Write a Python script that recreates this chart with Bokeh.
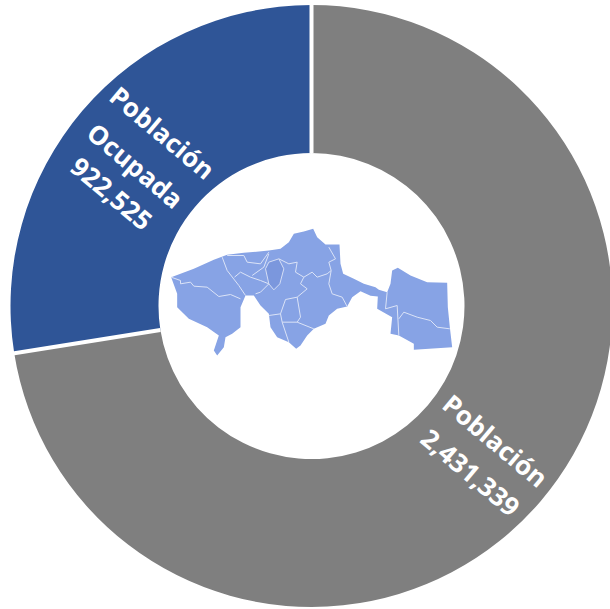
from math import pi, cos, sin
from bokeh.plotting import figure
from bokeh.embed import file_html
from bokeh.resources import INLINE
from bokeh.core.properties import value

categories = ["Población Ocupada", "Población"]
values = [922525, 2431339]
colors = ["#2f5597", "#7f7f7f"]
label_lines = ["Población", "Ocupada", "922,525", "Población", "2,431,339"]

# Map of the state, traced outline and internal boundaries
map_outline = [(32,170),(100,145),(160,118),(200,103),(250,97),(325,90),(360,85),(385,65),(400,40),(430,33),(458,25),(470,50),(495,72),(537,72),(540,130),(548,160),(580,175),(610,190),(645,200),(655,208),(680,215),(690,190),(695,150),(712,142),(750,165),(800,185),(860,187),(862,260),(868,320),(875,380),(760,388),(760,370),(715,345),(690,340),(695,290),(650,265),(652,228),(630,226),(600,212),(575,230),(560,258),(530,265),(505,285),(495,310),(460,325),(440,345),(420,375),(407,385),(385,365),(350,350),(330,320),(325,280),(300,255),(280,225),(255,225),(240,260),(240,300),(240,320),(215,340),(195,350),(190,380),(170,405),(160,390),(175,345),(140,320),(85,295),(50,260),(50,220)]
map_center = [(315,145),(325,125),(355,115),(370,145),(358,190),(340,208),(325,190)]
map_borders = [
    [(32,170),(60,180),(60,190),(90,185),(100,197),(140,200),(175,228),(210,222),(240,235)],
    [(185,110),(200,150),(235,195),(255,225)],
    [(200,105),(250,105),(260,125),(300,130),(325,95)],
    [(222,170),(240,155),(270,170),(300,180),(325,190),(300,215),(285,220)],
    [(325,100),(310,140),(275,165)],
    [(355,115),(385,130),(410,125),(405,155),(430,170),(420,190),(440,205),(410,230),(375,237),(360,280),(365,305),(410,305),(420,290),(410,230)],
    [(430,170),(455,155),(470,170),(500,160),(512,150),(505,125),(525,115),(505,80)],
    [(512,150),(505,190),(515,220),(545,230),(560,258)],
    [(325,285),(360,280)],
    [(365,305),(385,365)],
    [(410,305),(460,325)],
    [(680,215),(675,265),(710,255),(715,345)],
    [(715,295),(730,275),(770,290),(810,300),(830,320),(868,325)],
]

W, H = 610, 609
CX, CY, R_OUT, R_IN = 311, 305.5, 301, 153

def fy(py): return H - py
def mx(pts): return [160 + a / 3 for a, _ in pts]
def my(pts): return [fy(220 + b / 3) for _, b in pts]

p = figure(width=W, height=H, x_range=(0, W), y_range=(0, H),
           output_backend="svg", toolbar_location=None,
           min_border=0, outline_line_color=None, background_fill_color="white")
p.styles = {"position": "absolute", "left": "0", "top": "0"}
p.axis.visible = False
p.grid.visible = False

total = sum(values)
start = pi / 2
angles = []
for v, c in zip(values, colors):
    end = start + 2 * pi * v / total
    p.annular_wedge(x=[CX], y=[fy(CY)], inner_radius=R_IN, outer_radius=R_OUT,
                    start_angle=start, end_angle=end, fill_color=c, line_color=None)
    angles.append(start)
    start = end
for a in angles:
    p.line([CX + R_IN * cos(a), CX + (R_OUT + 3) * cos(a)],
           [fy(CY) + R_IN * sin(a), fy(CY) + (R_OUT + 3) * sin(a)],
           line_color="white", line_width=4)

p.patch(mx(map_outline), my(map_outline), fill_color="#87a3e5", line_color=None)
p.patch(mx(map_center), my(map_center), fill_color="#7b97dd", line_color="#d5def5", line_width=1)
for b in map_borders:
    p.line(mx(b), my(b), line_color="#dbe3f7", line_width=1)

label_pos = [(162, 132), (135, 165), (111, 193), (495, 440), (470, 472)]
for t, (lx, ly) in zip(label_lines, label_pos):
    p.text(x=[lx], y=[fy(ly)], text=[t], text_color="white", angle=-40 * pi / 180,
           text_font=value("Open Sans"), text_font_style="bold",
           text_font_size="26px", text_align="center", text_baseline="middle")

open("out.html", "w").write(file_html(p, INLINE))
